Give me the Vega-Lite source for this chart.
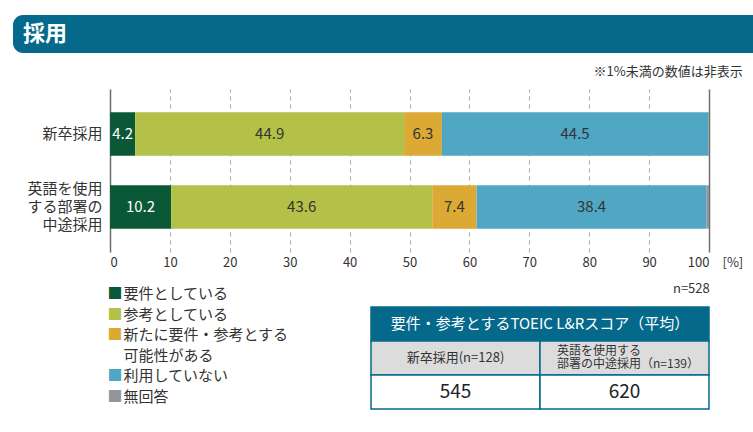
{
  "$schema": "https://vega.github.io/schema/vega-lite/v6.json",
  "padding": {"left": 13, "top": 15, "right": 0, "bottom": 0},
  "background": "white",
  "spacing": 13,
  "config": {
    "font": "Noto Sans CJK JP",
    "view": {"stroke": null}
  },
  "datasets": {
    "bars": [
      {"group": "新卒採用", "category": "要件としている", "value": 4.2},
      {"group": "新卒採用", "category": "参考としている", "value": 44.9},
      {"group": "新卒採用", "category": "新たに要件・参考とする\n可能性がある", "value": 6.3},
      {"group": "新卒採用", "category": "利用していない", "value": 44.5},
      {"group": "新卒採用", "category": "無回答", "value": 0.1},
      {"group": "英語を使用\nする部署の\n中途採用", "category": "要件としている", "value": 10.2},
      {"group": "英語を使用\nする部署の\n中途採用", "category": "参考としている", "value": 43.6},
      {"group": "英語を使用\nする部署の\n中途採用", "category": "新たに要件・参考とする\n可能性がある", "value": 7.4},
      {"group": "英語を使用\nする部署の\n中途採用", "category": "利用していない", "value": 38.4},
      {"group": "英語を使用\nする部署の\n中途採用", "category": "無回答", "value": 0.4}
    ],
    "legend": [
      {"category": "要件としている"},
      {"category": "参考としている"},
      {"category": "新たに要件・参考とする\n可能性がある"},
      {"category": "利用していない"},
      {"category": "無回答"}
    ],
    "table": [
      {"row": "header", "col": "", "text": "要件・参考とするTOEIC L&Rスコア（平均）"},
      {"row": "label", "col": "新卒採用", "text": "新卒採用(n=128)"},
      {"row": "label", "col": "中途採用", "text": "英語を使用する\n部署の中途採用（n=139）"},
      {"row": "value", "col": "新卒採用", "text": "545"},
      {"row": "value", "col": "中途採用", "text": "620"}
    ]
  },
  "vconcat": [
    {
      "width": 643,
      "height": 38,
      "data": {"values": [{"title": "採用"}]},
      "encoding": {
        "x": {"datum": 0, "type": "quantitative", "scale": {"domain": [0, 1], "range": [-97, 643]}, "axis": null}
      },
      "layer": [
        {
          "mark": {"type": "rect", "color": "#05698c", "cornerRadiusTopLeft": 10, "cornerRadiusBottomLeft": 10},
          "encoding": {"x2": {"datum": 1}}
        },
        {
          "mark": {"type": "text", "align": "left", "baseline": "middle", "color": "white", "fontSize": 22, "fontWeight": "bold", "dx": 10},
          "encoding": {"text": {"field": "title"}}
        }
      ]
    },
    {
      "width": 599,
      "height": 163,
      "title": {"text": "※1%未満の数値は非表示", "anchor": "end", "fontSize": 13, "fontWeight": "normal", "color": "#333333", "offset": 10},
      "data": {"name": "bars"},
      "transform": [
        {"window": [{"op": "row_number", "as": "stack_order"}], "groupby": ["group"]}
      ],
      "encoding": {
        "y": {
          "field": "group", "type": "nominal", "sort": null,
          "scale": {"paddingInner": 0.406, "paddingOuter": 0.32},
          "axis": {
            "title": null, "labelExpr": "split(datum.label, '\\n')", "labelFontSize": 15, "labelColor": "#333333",
            "labelPadding": 8, "labelLineHeight": 18,
            "labelOffset": {"condition": {"test": "datum.value !== '新卒採用'", "value": -18}, "value": 0},
            "ticks": false, "domain": true, "domainColor": "#6d6e71",
            "domainWidth": 1.5, "minExtent": 97, "maxExtent": 97, "labelLimit": 200
          }
        },
        "x": {
          "field": "value", "type": "quantitative", "stack": "zero",
          "scale": {"domain": [0, 100], "nice": false},
          "axis": {
            "title": "[%]", "titleX": 612, "titleY": 4, "titleAlign": "left", "titleBaseline": "top", "titleAngle": 0,
            "titleFontSize": 13, "titleFontWeight": "normal", "titleColor": "#333333",
            "values": [0, 10, 20, 30, 40, 50, 60, 70, 80, 90, 100],
            "grid": true,
            "gridColor": {"condition": {"test": "datum.value === 100", "value": "#6d6e71"}, "value": "#a7a9ac"},
            "gridDash": {"condition": {"test": "datum.value === 0 || datum.value === 100", "value": []}, "value": [4, 4]},
            "gridWidth": {"condition": {"test": "datum.value === 100", "value": 1.5}, "value": 1},
            "domain": false, "ticks": false, "labelFontSize": 13, "labelColor": "#333333", "labelPadding": 4
          }
        },
        "order": {"field": "stack_order", "type": "quantitative", "sort": "ascending"},
        "color": {
          "field": "category", "type": "nominal",
          "scale": {
            "domain": ["要件としている", "参考としている", "新たに要件・参考とする\n可能性がある", "利用していない", "無回答"],
            "range": ["#0b5837", "#b4c148", "#dba934", "#4fa7c4", "#939598"]
          },
          "legend": null
        }
      },
      "layer": [
        {"mark": {"type": "bar"}},
        {
          "mark": {"type": "text", "fontSize": 15, "baseline": "middle", "align": "center"},
          "encoding": {
            "x": {"field": "value", "type": "quantitative", "stack": "zero", "bandPosition": 0.5},
            "text": {"condition": {"test": "datum.value < 1", "value": ""}, "field": "value", "type": "quantitative", "format": ".1f"},
            "fill": {"condition": {"test": "datum.category === '要件としている'", "value": "#ffffff"}, "value": "#333333"}
          }
        }
      ]
    },
    {
      "spacing": 10,
      "title": {"text": "n=528", "anchor": "end", "frame": "bounds", "fontSize": 13, "fontWeight": "normal", "color": "#333333", "offset": -8.5},
      "hconcat": [
        {
          "width": 250,
          "height": 103,
          "data": {"name": "legend"},
          "encoding": {
            "y": {
              "field": "category", "type": "nominal",
              "scale": {"type": "point", "domain": ["要件としている", "参考としている", "新たに要件・参考とする\n可能性がある", "spacer", "利用していない", "無回答"], "padding": 0},
              "axis": null
            },
            "x": {"datum": 0, "type": "quantitative", "scale": {"domain": [0, 1]}, "axis": null}
          },
          "layer": [
            {
              "mark": {"type": "text", "align": "center", "baseline": "middle", "dx": 5, "fontSize": 15},
              "encoding": {
                "text": {"value": "■"},
                "color": {
                  "field": "category", "type": "nominal",
                  "scale": {
                    "domain": ["要件としている", "参考としている", "新たに要件・参考とする\n可能性がある", "利用していない", "無回答"],
                    "range": ["#0b5837", "#b4c148", "#dba934", "#4fa7c4", "#939598"]
                  },
                  "legend": null
                }
              }
            },
            {
              "mark": {"type": "text", "align": "left", "baseline": "middle", "dx": 13.5, "fontSize": 15, "lineBreak": "\n", "lineHeight": 20.6, "color": "#333333"},
              "encoding": {"text": {"field": "category"}}
            }
          ]
        },
        {
          "width": 338,
          "height": 115,
          "data": {"name": "table"},
          "encoding": {
            "y": {"field": "row", "type": "nominal", "scale": {"domain": ["header", "label", "value"], "paddingInner": 0, "paddingOuter": 0.191, "align": 1}, "axis": null}
          },
          "layer": [
            {
              "transform": [{"filter": "datum.row === 'header'"}],
              "mark": {"type": "rect", "color": "#05698c", "stroke": "#05698c", "strokeWidth": 1.5}
            },
            {
              "transform": [{"filter": "datum.row !== 'header'"}],
              "mark": {"type": "rect", "stroke": "#05698c", "strokeWidth": 1.5},
              "encoding": {
                "x": {"field": "col", "type": "nominal", "scale": {"domain": ["新卒採用", "中途採用"], "paddingInner": 0, "paddingOuter": 0}, "axis": null},
                "fill": {"condition": {"test": "datum.row === 'label'", "value": "#dcdcdc"}, "value": "#ffffff"}
              }
            },
            {
              "transform": [{"filter": "datum.row === 'header'"}],
              "mark": {"type": "text", "color": "#ffffff", "fontSize": 15, "baseline": "middle"},
              "encoding": {"text": {"field": "text"}}
            },
            {
              "transform": [{"filter": "datum.row === 'label' && datum.col === '新卒採用'"}],
              "mark": {"type": "text", "color": "#333333", "fontSize": 13, "baseline": "middle"},
              "encoding": {"x": {"field": "col", "type": "nominal"}, "text": {"field": "text"}}
            },
            {
              "transform": [{"filter": "datum.row === 'label' && datum.col === '中途採用'"}],
              "mark": {"type": "text", "color": "#333333", "fontSize": 12, "baseline": "middle", "align": "left", "dx": 17, "dy": -6.5, "lineBreak": "\n", "lineHeight": 13},
              "encoding": {"x": {"field": "col", "type": "nominal", "bandPosition": 0}, "text": {"field": "text"}}
            },
            {
              "transform": [{"filter": "datum.row === 'value'"}],
              "mark": {"type": "text", "color": "#222222", "fontSize": 19, "baseline": "middle"},
              "encoding": {"x": {"field": "col", "type": "nominal"}, "text": {"field": "text"}}
            }
          ]
        }
      ]
    }
  ]
}
